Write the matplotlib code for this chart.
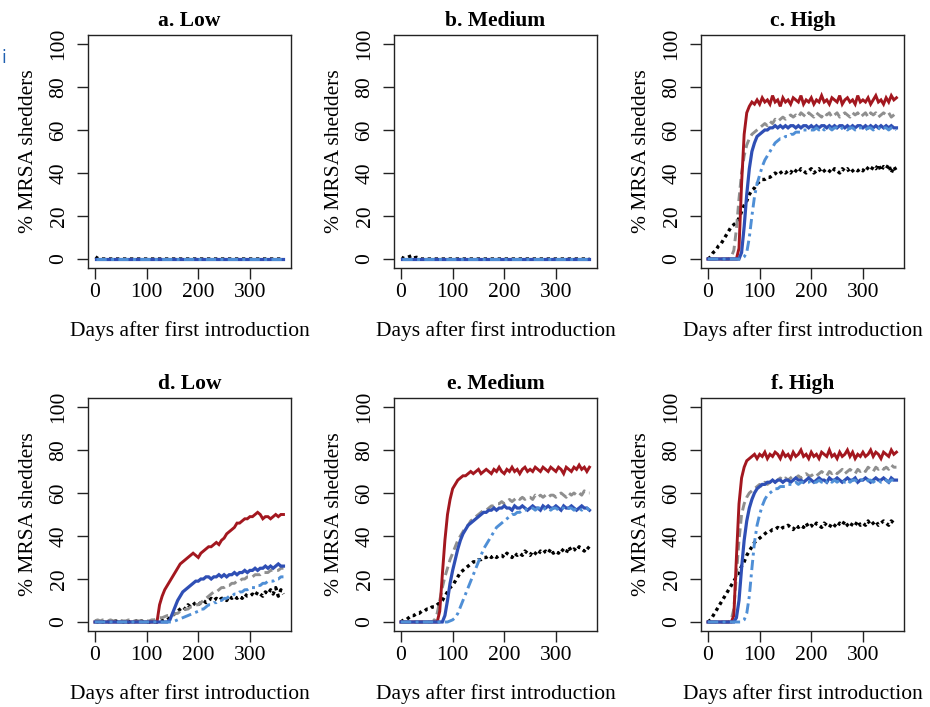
import matplotlib
matplotlib.use('Agg')
import matplotlib.pyplot as plt

plt.rcParams['font.family'] = ['Liberation Serif', 'DejaVu Serif']
FONT_SIZE = 15.5

DAYS = list(range(0, 366, 5))
FLAT_DAYS = [1, 365]
FLAT = [0, 0]

# panels a and b: everything stays at zero apart from small blips at the start
A_BLACK_DAYS = [1, 5, 10, 365]
A_BLACK = [1.0, 0.3, 0, 0]
B_BLACK_DAYS = [1, 5, 10, 15, 20, 25, 30, 40, 365]
B_BLACK = [0.8, 0.3, 0.5, 1.0, 1.5, 0.5, 0.8, 0, 0]

# panel c (High, top row)
C_RED = [0, 0, 0, 0, 0, 0, 0, 0, 0, 0,
         0, 0, 5, 35, 58, 68, 71, 73, 72, 74,
         72, 75, 73, 74, 72, 76, 73, 74, 71, 75,
         73, 74, 72, 75, 74, 73, 76, 72, 74, 73,
         75, 72, 74, 73, 76, 73, 74, 72, 75, 74,
         73, 76, 72, 74, 75, 73, 74, 72, 76, 73,
         74, 73, 75, 72, 74, 76, 73, 74, 72, 75,
         73, 76, 74, 75]
C_GRAY = [0, 0, 0, 0, 0, 0, 0, 0, 0, 1,
          4, 14, 28, 40, 48, 53, 56, 58, 59, 60,
          61, 62, 63, 62, 64, 63, 65, 64, 65, 66,
          65, 66, 67, 66, 67, 66, 68, 67, 66, 68,
          67, 66, 68, 67, 66, 68, 67, 68, 66, 67,
          68, 66, 67, 68, 67, 66, 68, 67, 68, 66,
          67, 68, 66, 68, 67, 68, 66, 67, 68, 67,
          68, 66, 67, 68]
C_BLUE = [0, 0, 0, 0, 0, 0, 0, 0, 0, 0,
          0, 0, 0, 3, 15, 30, 42, 50, 54, 57,
          58, 59, 60, 60, 61, 61, 62, 61, 62, 61,
          62, 61, 62, 62, 61, 62, 61, 62, 62, 61,
          62, 61, 62, 61, 62, 62, 61, 62, 61, 62,
          61, 62, 62, 61, 62, 61, 62, 61, 62, 62,
          61, 62, 61, 62, 61, 62, 61, 62, 61, 62,
          61, 62, 61, 61]
C_LIGHT = [0, 0, 0, 0, 0, 0, 0, 0, 0, 0,
           0, 0, 0, 0, 1, 3, 10, 20, 29, 35,
           39, 43, 46, 48, 50, 52, 54, 55, 56, 56,
           57, 57, 58, 58, 59, 59, 59, 60, 60, 60,
           60, 60, 61, 60, 61, 60, 61, 61, 60, 61,
           61, 60, 61, 61, 60, 61, 61, 60, 61, 61,
           61, 60, 61, 61, 60, 61, 61, 60, 61, 61,
           60, 61, 61, 60]
C_BLACK = [0, 1, 3, 4, 6, 7, 9, 11, 13, 15,
           16, 17, 19, 22, 25, 27, 30, 32, 33, 35,
           36, 37, 37, 38, 38, 39, 40, 39, 40, 41,
           40, 41, 40, 42, 41, 40, 42, 41, 40, 41,
           42, 40, 41, 42, 40, 41, 42, 41, 40, 42,
           41, 40, 42, 41, 42, 40, 41, 42, 41, 42,
           41, 43, 42, 41, 43, 42, 44, 41, 43, 42,
           44, 40, 43, 41]

# panel d (Low, bottom row)
D_RED = [0, 0, 0, 0, 0, 0, 0, 0, 0, 0,
         0, 0, 0, 0, 0, 0, 0, 0, 0, 0,
         0, 0, 0, 0, 0, 8, 12, 15, 17, 19,
         21, 23, 25, 27, 28, 29, 30, 31, 32, 31,
         30, 32, 33, 34, 35, 35, 36, 37, 36, 38,
         39, 41, 42, 43, 44, 46, 46, 47, 48, 48,
         49, 49, 50, 51, 50, 48, 49, 49, 48, 49,
         50, 49, 50, 50]
D_GRAY = [0.5, 1, 0.5, 1, 0.5, 0.5, 1, 0.5, 0.5, 0.5,
          0.5, 0.5, 0.5, 1, 0.5, 0.5, 0.5, 0.5, 0.5, 0.5,
          0.5, 0.5, 1, 1, 1.5, 2, 2, 2.5, 3, 3,
          3, 4, 4, 5, 5, 6, 6, 7, 7, 8,
          8, 9, 10, 11, 12, 13, 14, 14, 15, 16,
          16, 17, 17, 18, 18, 19, 19, 20, 20, 21,
          21, 21, 22, 22, 22, 23, 23, 23, 24, 24,
          24, 24, 25, 25]
D_BLUE = [0, 0, 0, 0, 0, 0, 0, 0, 0, 0,
          0, 0, 0, 0, 0, 0, 0, 0, 0, 0,
          0, 0, 0, 0, 0, 0, 0, 0, 0, 1,
          4, 7, 10, 12, 14, 15, 16, 17, 18, 19,
          19, 20, 20, 21, 21, 20, 21, 21, 22, 21,
          22, 21, 22, 22, 23, 22, 23, 23, 24, 23,
          24, 24, 25, 24, 25, 25, 26, 25, 26, 25,
          26, 27, 26, 26]
D_LIGHT = [0, 0, 0, 0, 0, 0, 0, 0, 0, 0,
           0, 0, 0, 0, 0, 0, 0, 0, 0, 0,
           0, 0, 0, 0, 0, 0, 0, 0, 0, 0,
           0, 0.5, 1, 1.5, 2, 2.5, 3, 3.5, 4, 4.5,
           5, 6, 6, 7, 8, 8, 9, 9, 10, 10,
           11, 11, 12, 12, 13, 13, 14, 14, 15, 15,
           16, 16, 16, 17, 17, 18, 18, 19, 19, 19,
           20, 20, 21, 21]
D_BLACK = [0.5, 0, 0.5, 0, 0.5, 0, 0.5, 0, 0.5, 0,
           0.5, 0, 0.5, 0, 0.5, 0, 0.5, 0, 0.5, 0,
           0, 0, 0, 0, 0, 0.5, 0.5, 1, 1, 2,
           3, 4, 5, 6, 7, 6, 8, 7, 8, 9,
           8, 9, 10, 9, 10, 11, 10, 11, 10, 11,
           11, 10, 12, 11, 12, 11, 12, 11, 13, 12,
           12, 13, 12, 14, 13, 12, 14, 13, 15, 13,
           16, 12, 15, 13]

# panel e (Medium, bottom row)
E_RED = [0, 0, 0, 0, 0, 0, 0, 0, 0, 0,
         0, 0, 0, 0, 0, 5, 22, 38, 50, 57,
         62, 64, 66, 67, 68, 68, 69, 70, 69, 70,
         71, 69, 70, 71, 70, 69, 71, 70, 72, 70,
         69, 71, 70, 72, 70, 71, 69, 71, 72, 70,
         71, 70, 72, 71, 70, 72, 71, 70, 72, 71,
         70, 72, 71, 69, 72, 71, 70, 72, 71, 73,
         71, 72, 70, 72]
E_GRAY = [0, 0, 0, 0, 0, 0, 0, 0, 0, 0,
          0, 0, 0, 1, 4, 10, 16, 21, 25, 29,
          32, 35, 38, 40, 42, 44, 45, 47, 48, 49,
          50, 51, 52, 52, 53, 54, 54, 55, 55, 56,
          55, 56, 57, 56, 57, 58, 57, 58, 57, 58,
          58, 57, 59, 58, 59, 58, 59, 58, 59, 59,
          58, 59, 60, 59, 58, 60, 59, 60, 59, 60,
          59, 61, 60, 60]
E_BLUE = [0, 0, 0, 0, 0, 0, 0, 0, 0, 0,
          0, 0, 0, 0, 0, 0, 0, 3, 10, 18,
          24, 29, 34, 38, 41, 43, 45, 46, 47, 48,
          49, 50, 51, 51, 52, 52, 53, 52, 53, 53,
          54, 53, 53, 52, 54, 53, 53, 54, 53, 52,
          53, 54, 53, 53, 52, 54, 53, 54, 53, 53,
          54, 53, 52, 54, 53, 53, 54, 53, 52, 53,
          54, 53, 53, 52]
E_LIGHT = [0, 0, 0, 0, 0, 0, 0, 0, 0, 0,
           0, 0, 0, 0, 0, 0, 0, 0, 0, 0.5,
           1, 2, 4, 7, 10, 13, 16, 19, 22, 25,
           28, 31, 34, 36, 38, 40, 42, 44, 45, 46,
           47, 48, 49, 50, 50, 51, 51, 52, 52, 53,
           53, 53, 52, 53, 53, 52, 53, 53, 52, 53,
           53, 52, 53, 53, 52, 53, 53, 52, 53, 53,
           52, 53, 53, 52]
E_BLACK = [0, 1, 1, 2, 3, 3, 4, 4, 5, 5,
           6, 6, 7, 7, 8, 9, 10, 12, 14, 16,
           17, 19, 21, 23, 24, 25, 26, 27, 28, 28,
           29, 29, 30, 30, 31, 30, 31, 30, 31, 31,
           30, 32, 31, 30, 32, 31, 32, 31, 33, 32,
           31, 33, 32, 31, 33, 32, 33, 32, 34, 32,
           33, 32, 34, 33, 32, 35, 33, 34, 33, 35,
           34, 33, 35, 34]

# panel f (High, bottom row)
F_RED = [0, 0, 0, 0, 0, 0, 0, 0, 0, 0,
         3, 30, 55, 67, 72, 75, 76, 77, 78, 76,
         78, 77, 79, 76, 78, 77, 79, 78, 76, 79,
         77, 78, 76, 79, 77, 78, 80, 77, 78, 76,
         79, 77, 78, 76, 79, 78, 77, 80, 77, 78,
         76, 79, 77, 78, 80, 77, 79, 76, 78, 77,
         79, 77, 78, 80, 77, 79, 78, 76, 79, 78,
         77, 80, 78, 79]
F_GRAY = [0, 0, 0, 0, 0, 0, 0, 0, 0, 1,
          6, 22, 38, 50, 55, 58, 60, 61, 62, 63,
          64, 63, 65, 64, 65, 66, 65, 66, 67, 66,
          67, 66, 67, 68, 67, 68, 67, 68, 69, 68,
          68, 69, 68, 69, 70, 69, 68, 70, 69, 70,
          69, 70, 71, 69, 70, 71, 70, 69, 71, 70,
          71, 70, 72, 71, 70, 72, 71, 72, 71, 72,
          71, 73, 72, 72]
F_BLUE = [0, 0, 0, 0, 0, 0, 0, 0, 0, 0,
          0, 2, 10, 25, 38, 47, 53, 57, 60, 62,
          63, 64, 64, 65, 65, 66, 65, 66, 66, 65,
          66, 66, 65, 66, 67, 66, 66, 65, 66, 67,
          66, 65, 66, 67, 66, 66, 65, 67, 66, 66,
          67, 66, 65, 66, 67, 66, 66, 67, 65, 66,
          66, 67, 66, 65, 66, 67, 66, 66, 67, 66,
          65, 67, 66, 66]
F_LIGHT = [0, 0, 0, 0, 0, 0, 0, 0, 0, 0,
           0, 0, 0, 0, 1, 4, 12, 25, 37, 45,
           50, 54, 57, 59, 60, 61, 62, 62, 63, 63,
           63, 64, 64, 64, 65, 64, 65, 65, 65, 65,
           66, 65, 65, 66, 65, 66, 65, 66, 65, 66,
           65, 66, 66, 65, 66, 65, 66, 66, 65, 66,
           66, 65, 66, 66, 65, 66, 66, 65, 66, 66,
           65, 66, 66, 65]
F_BLACK = [0, 1, 3, 5, 7, 9, 11, 13, 15, 17,
           19, 21, 23, 26, 28, 31, 33, 35, 37, 38,
           39, 40, 41, 42, 42, 43, 43, 44, 43, 44,
           44, 45, 44, 43, 45, 44, 45, 44, 46, 44,
           45, 44, 46, 45, 44, 46, 45, 44, 46, 45,
           44, 46, 45, 47, 45, 44, 46, 45, 47, 45,
           46, 45, 47, 45, 46, 47, 45, 46, 47, 46,
           45, 47, 46, 46]

TITLES = ['a. Low', 'b. Medium', 'c. High', 'd. Low', 'e. Medium', 'f. High']
XLABEL = 'Days after first introduction'
YLABEL = '% MRSA shedders'
XTICKS = [0, 100, 200, 300]
YTICKS = [0, 20, 40, 60, 80, 100]

STYLES = {
    'black': dict(color='black', lw=2.4, dashes=(1.0, 1.1)),
    'gray': dict(color='#8f8f8f', lw=2.1, dashes=(3.0, 1.6)),
    'red': dict(color='#a3171f', lw=2.1),
    'blue': dict(color='#2f4fb5', lw=2.3),
    'light': dict(color='#4f8fd6', lw=2.1, dashes=(3.5, 1.5, 1.0, 1.5)),
}
DRAW_ORDER = ['black', 'gray', 'red', 'blue', 'light']

flat_panel = lambda bx, by: {
    'black': (bx, by), 'gray': (FLAT_DAYS, FLAT), 'red': (FLAT_DAYS, FLAT),
    'blue': (FLAT_DAYS, FLAT), 'light': (FLAT_DAYS, FLAT)}

PANEL_DATA = [
    flat_panel(A_BLACK_DAYS, A_BLACK),
    flat_panel(B_BLACK_DAYS, B_BLACK),
    {'black': (DAYS, C_BLACK), 'gray': (DAYS, C_GRAY), 'red': (DAYS, C_RED),
     'blue': (DAYS, C_BLUE), 'light': (DAYS, C_LIGHT)},
    {'black': (DAYS, D_BLACK), 'gray': (DAYS, D_GRAY), 'red': (DAYS, D_RED),
     'blue': (DAYS, D_BLUE), 'light': (DAYS, D_LIGHT)},
    {'black': (DAYS, E_BLACK), 'gray': (DAYS, E_GRAY), 'red': (DAYS, E_RED),
     'blue': (DAYS, E_BLUE), 'light': (DAYS, E_LIGHT)},
    {'black': (DAYS, F_BLACK), 'gray': (DAYS, F_GRAY), 'red': (DAYS, F_RED),
     'blue': (DAYS, F_BLUE), 'light': (DAYS, F_LIGHT)},
]

W_PX, H_PX = 930, 707
LEFTS = [88, 394, 701]
BOX_TOPS = [35.4, 398.4]
BOX_W, BOX_H = 203, 232.2

fig = plt.figure(figsize=(W_PX / 100, H_PX / 100), dpi=100)

for i, (title, data) in enumerate(zip(TITLES, PANEL_DATA)):
    row, col = divmod(i, 3)
    left = LEFTS[col] / W_PX
    bottom = 1 - (BOX_TOPS[row] + BOX_H) / H_PX
    ax = fig.add_axes([left, bottom, BOX_W / W_PX, BOX_H / H_PX])

    for key in DRAW_ORDER:
        x, y = data[key]
        ax.plot(x, y, solid_joinstyle='miter', **STYLES[key])

    ax.set_xlim(-13.6, 379.6)
    ax.set_ylim(-4, 104)
    ax.set_xticks(XTICKS)
    ax.set_yticks(YTICKS)
    ax.set_yticklabels([str(t) for t in YTICKS], rotation=90, va='center')
    ax.tick_params(direction='out', length=8, width=1.0, labelsize=FONT_SIZE,
                   color='#222222')
    ax.tick_params(axis='x', pad=3)
    ax.tick_params(axis='y', pad=6)
    for spine in ax.spines.values():
        spine.set_linewidth(1.0)
        spine.set_color('#222222')

    ax.set_title(title, fontsize=FONT_SIZE, fontweight='bold', pad=6.5)
    ax.set_xlabel(XLABEL, fontsize=FONT_SIZE, labelpad=14)
    ax.set_ylabel(YLABEL, fontsize=FONT_SIZE, labelpad=8)

# glyph fragment at the left margin
fig.text(0.0015, 1 - 58 / H_PX, 'i', color='#2060b0', fontsize=12,
         family='DejaVu Sans', ha='left', va='center')

fig.savefig('out.png', dpi=100, facecolor='white')
